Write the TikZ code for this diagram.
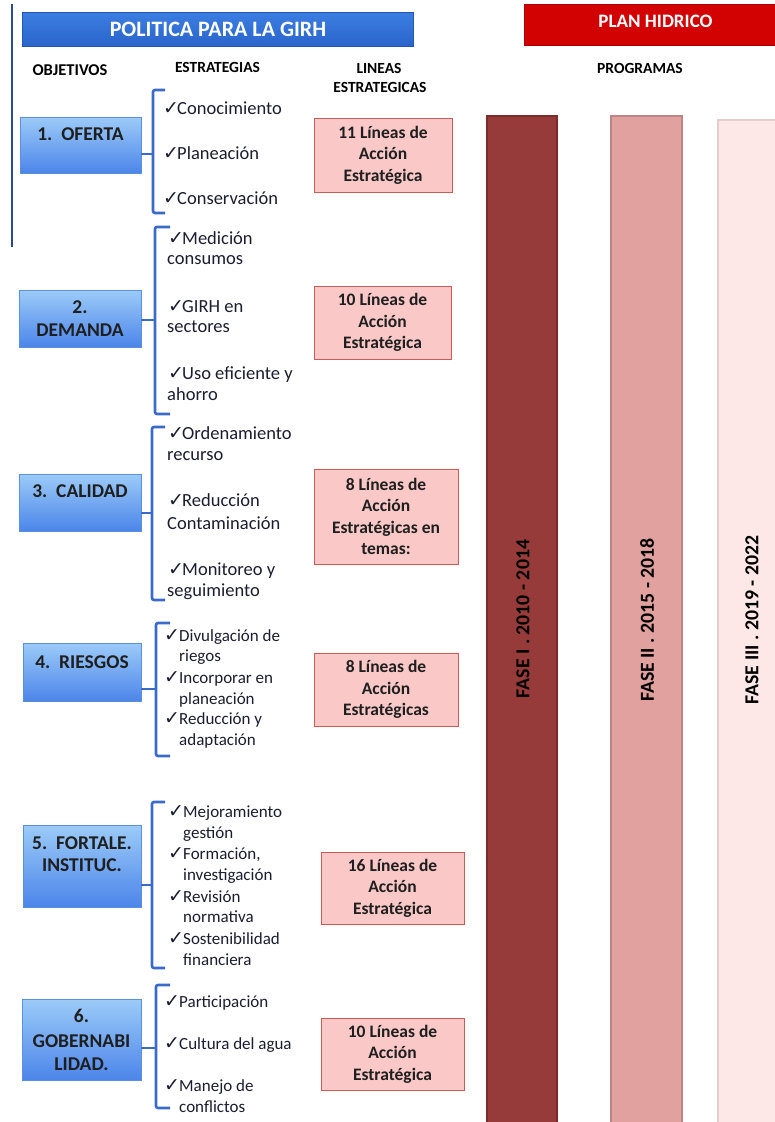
\documentclass[tikz,border=0pt]{standalone}
\usepackage{fontspec}
\setmainfont{Carlito}
\newfontfamily\djv{DejaVu Sans}
\newcommand\ckm{{\djv\fontsize{19}{19}\selectfont ✓}}
\definecolor{objtop}{HTML}{9CCBF8}
\definecolor{objbot}{HTML}{4C85EA}
\definecolor{objborder}{HTML}{5E8FDA}
\definecolor{titletop}{HTML}{3C7EE2}
\definecolor{titlebot}{HTML}{2A64CA}
\definecolor{titleborder}{HTML}{2356B4}
\definecolor{redhdr}{HTML}{D20202}
\definecolor{redborder}{HTML}{A80000}
\definecolor{pinkfill}{HTML}{F9C8C7}
\definecolor{pinkborder}{HTML}{C95C59}
\definecolor{brkcol}{HTML}{3A6BC9}
\definecolor{txtcol}{HTML}{1C1C30}
\definecolor{barone}{HTML}{963B3A}
\definecolor{baroneb}{HTML}{7A2C2B}
\definecolor{bartwo}{HTML}{E0A19F}
\definecolor{bartwob}{HTML}{B98685}
\definecolor{barthree}{HTML}{FDE8E7}
\definecolor{barthreeb}{HTML}{E2CFCE}
\definecolor{leftline}{HTML}{2B4A8A}
\begin{document}
\begin{tikzpicture}[x=1pt,y=-1pt,
  hdr/.style={font=\bfseries\fontsize{15.5}{18}\selectfont, anchor=base, inner sep=0, text=black},
  objbox/.style={draw=objborder, line width=0.8pt, top color=objtop, bottom color=objbot, inner sep=0},
  objtxt/.style={font=\bfseries\fontsize{19.5}{21}\selectfont, anchor=base, inner sep=0, text=black!88},
  ck/.style={anchor=base west, inner sep=0, text=txtcol},
  sa/.style={anchor=base west, inner sep=0, text=txtcol, font=\fontsize{18.5}{22}\selectfont},
  sb/.style={anchor=base west, inner sep=0, text=txtcol, font=\fontsize{17}{21}\selectfont},
  pinkbox/.style={draw=pinkborder, line width=0.9pt, fill=pinkfill, align=center, inner sep=0,
    font=\bfseries\fontsize{17.5}{21.5}\selectfont, text=black!88},
  brk/.style={draw=brkcol, line width=2.6pt, rounded corners=2pt},
  bartxt/.style={rotate=90, font=\bfseries\fontsize{19.8}{21}\selectfont, inner sep=0, text=black}
]
\useasboundingbox (0,0) rectangle (775,1122);

% ---- phase bars ----
\node[fill=barone, draw=baroneb, line width=1.2pt, minimum width=70pt, minimum height=1008pt, inner sep=0] (bar1) at (522,620) {};
\node[fill=bartwo, draw=bartwob, line width=1.2pt, minimum width=71pt, minimum height=1008pt, inner sep=0] (bar2) at (646.5,620) {};
\node[fill=barthree, draw=barthreeb, line width=1.2pt, minimum width=72pt, minimum height=1004pt, inner sep=0] (bar3) at (754,622) {};
\node[bartxt] (f1) at (523,619) {FASE I . 2010 - 2014};
\node[bartxt] (f2) at (647,620) {FASE II . 2015 - 2018};
\node[bartxt] (f3) at (752,620) {FASE III . 2019 - 2022};

% ---- headers ----
\node[draw=titleborder, line width=0.8pt, top color=titletop, bottom color=titlebot, minimum width=391pt, minimum height=34pt, inner sep=0] (title) at (217.5,29) {};
\node[anchor=base, inner sep=0, text=white, font=\bfseries\fontsize{22}{24}\selectfont] (titletxt) at (218,36) {POLITICA PARA LA GIRH};
\node[fill=redhdr, draw=redborder, line width=0.8pt, minimum width=258pt, minimum height=41pt, inner sep=0] (plan) at (653,24.5) {};
\node[anchor=base, inner sep=0, text=white, font=\bfseries\fontsize{19}{21}\selectfont] (plantxt) at (655.5,27) {PLAN HIDRICO};

\coordinate (lt) at (12,4);
\coordinate (lb) at (12,247);
\draw[leftline, line width=2pt] (lt) -- (lb);

\node[hdr, font=\bfseries\fontsize{16.5}{18}\selectfont] (hobj) at (70,75.5) {OBJETIVOS};
\node[hdr] (hest) at (217.5,72.5) {ESTRATEGIAS};
\node[hdr] (hlin1) at (379,73.5) {LINEAS};
\node[hdr] (hlin2) at (380,92.5) {ESTRATEGICAS};
\node[hdr] (hprog) at (640,73) {PROGRAMAS};

% ---- objective boxes ----
\node[objbox, minimum width=121pt, minimum height=56pt] (o1) at (80.5,145) {};
\node[objbox, minimum width=122pt, minimum height=57pt] (o2) at (80,318.5) {};
\node[objbox, minimum width=122pt, minimum height=57pt] (o3) at (80,502.5) {};
\node[objbox, minimum width=118pt, minimum height=58pt] (o4) at (82,672) {};
\node[objbox, minimum width=118pt, minimum height=82pt] (o5) at (82,866) {};
\node[objbox, minimum width=119pt, minimum height=81pt] (o6) at (81.5,1039.5) {};

\node[objtxt] (o1t) at (80.5,140) {1.\ \ OFERTA};
\node[objtxt] (o2t1) at (80,313.5) {2.};
\node[objtxt] (o2t2) at (80,336) {DEMANDA};
\node[objtxt] (o3t) at (80,497) {3.\ \ CALIDAD};
\node[objtxt] (o4t) at (82,668) {4.\ \ RIESGOS};
\node[objtxt] (o5t1) at (82,849) {5.\ \ FORTALE.};
\node[objtxt] (o5t2) at (82,871) {INSTITUC.};
\node[objtxt] (o6t1) at (81.5,1022) {6.};
\node[objtxt] (o6t2) at (81.5,1047) {GOBERNABI};
\node[objtxt] (o6t3) at (81.5,1070) {LIDAD.};

% ---- brackets ----
\coordinate (t1) at (165,90);  \coordinate (m1) at (153,154);  \coordinate (b1) at (165,213);
\coordinate (t2) at (170,227); \coordinate (m2) at (155,320);  \coordinate (b2) at (170,414);
\coordinate (t3) at (165,427); \coordinate (m3) at (152,513);  \coordinate (b3) at (165,600);
\coordinate (t4) at (170,623); \coordinate (m4) at (156,689);  \coordinate (b4) at (170,756);
\coordinate (t5) at (165,802); \coordinate (m5) at (152,885);  \coordinate (b5) at (165,968);
\coordinate (t6) at (170,985); \coordinate (m6) at (156,1048); \coordinate (b6) at (170,1108);
\foreach \i in {1,...,6}{
  \draw[brk] (t\i) -| (m\i) |- (b\i);
  \draw[brk] (o\i.east |- m\i) -- (m\i);
}

% ---- strategies group 1 ----
\node[ck] (c11) at (163,114) {\ckm};
\node[sa] (s11) at (177,114) {Conocimiento};
\node[ck] (c12) at (163,159) {\ckm};
\node[sa] (s12) at (177,159) {Planeación};
\node[ck] (c13) at (163,204) {\ckm};
\node[sa] (s13) at (177,204) {Conservación};

% ---- group 2 ----
\node[ck] (c21) at (168,244) {\ckm};
\node[sa] (s21) at (182,244) {Medición};
\node[sa] (s21b) at (167,264) {consumos};
\node[ck] (c22) at (168,312) {\ckm};
\node[sa] (s22) at (182,312) {GIRH en};
\node[sa] (s22b) at (167,332) {sectores};
\node[ck] (c23) at (168,379) {\ckm};
\node[sa] (s23) at (182,379) {Uso eficiente y};
\node[sa] (s23b) at (167,400) {ahorro};

% ---- group 3 ----
\node[ck] (c31) at (168,439) {\ckm};
\node[sa] (s31) at (182,439) {Ordenamiento};
\node[sa] (s31b) at (167,460) {recurso};
\node[ck] (c32) at (168,506) {\ckm};
\node[sa] (s32) at (182,506) {Reducción};
\node[sa] (s32b) at (167,529) {Contaminación};
\node[ck] (c33) at (168,575) {\ckm};
\node[sa] (s33) at (182,575) {Monitoreo y};
\node[sa] (s33b) at (167,596) {seguimiento};

% ---- group 4 ----
\node[ck] (c41) at (164,641.5) {\ckm};
\node[sb] (s41) at (179,641.5) {Divulgación de};
\node[sb] (s41b) at (179,661) {riegos};
\node[ck] (c42) at (164,683) {\ckm};
\node[sb] (s42) at (179,683) {Incorporar en};
\node[sb] (s42b) at (179,704) {planeación};
\node[ck] (c43) at (164,724.5) {\ckm};
\node[sb] (s43) at (179,724.5) {Reducción y};
\node[sb] (s43b) at (179,745) {adaptación};

% ---- group 5 ----
\node[ck] (c51) at (168,817) {\ckm};
\node[sb] (s51) at (183,817) {Mejoramiento};
\node[sb] (s51b) at (183,838) {gestión};
\node[ck] (c52) at (168,859.5) {\ckm};
\node[sb] (s52) at (183,859.5) {Formación,};
\node[sb] (s52b) at (183,880) {investigación};
\node[ck] (c53) at (168,902) {\ckm};
\node[sb] (s53) at (183,902) {Revisión};
\node[sb] (s53b) at (183,922) {normativa};
\node[ck] (c54) at (168,944.5) {\ckm};
\node[sb] (s54) at (183,944.5) {Sostenibilidad};
\node[sb] (s54b) at (183,965) {financiera};

% ---- group 6 ----
\node[ck] (c61) at (164,1007) {\ckm};
\node[sb] (s61) at (179,1007) {Participación};
\node[ck] (c62) at (164,1049.5) {\ckm};
\node[sb] (s62) at (179,1049.5) {Cultura del agua};
\node[ck] (c63) at (164,1091) {\ckm};
\node[sb] (s63) at (179,1091) {Manejo de};
\node[sb] (s63b) at (179,1112) {conflictos};

% ---- lineas estrategicas boxes ----
\node[pinkbox, minimum width=138pt, minimum height=74pt] (p1) at (383,155) {11 Líneas de\\Acción\\Estratégica};
\node[pinkbox, minimum width=137pt, minimum height=73pt] (p2) at (382.5,322.5) {10 Líneas de\\Acción\\Estratégica};
\node[pinkbox, minimum width=144pt, minimum height=95pt] (p3) at (386,516.5) {8 Líneas de\\Acción\\Estratégicas en\\temas:};
\node[pinkbox, minimum width=144pt, minimum height=73pt] (p4) at (386,689.5) {8 Líneas de\\Acción\\Estratégicas};
\node[pinkbox, minimum width=143pt, minimum height=72pt] (p5) at (392.5,888) {16 Líneas de\\Acción\\Estratégica};
\node[pinkbox, minimum width=143pt, minimum height=72pt] (p6) at (392.5,1054) {10 Líneas de\\Acción\\Estratégica};
\end{tikzpicture}
\end{document}
